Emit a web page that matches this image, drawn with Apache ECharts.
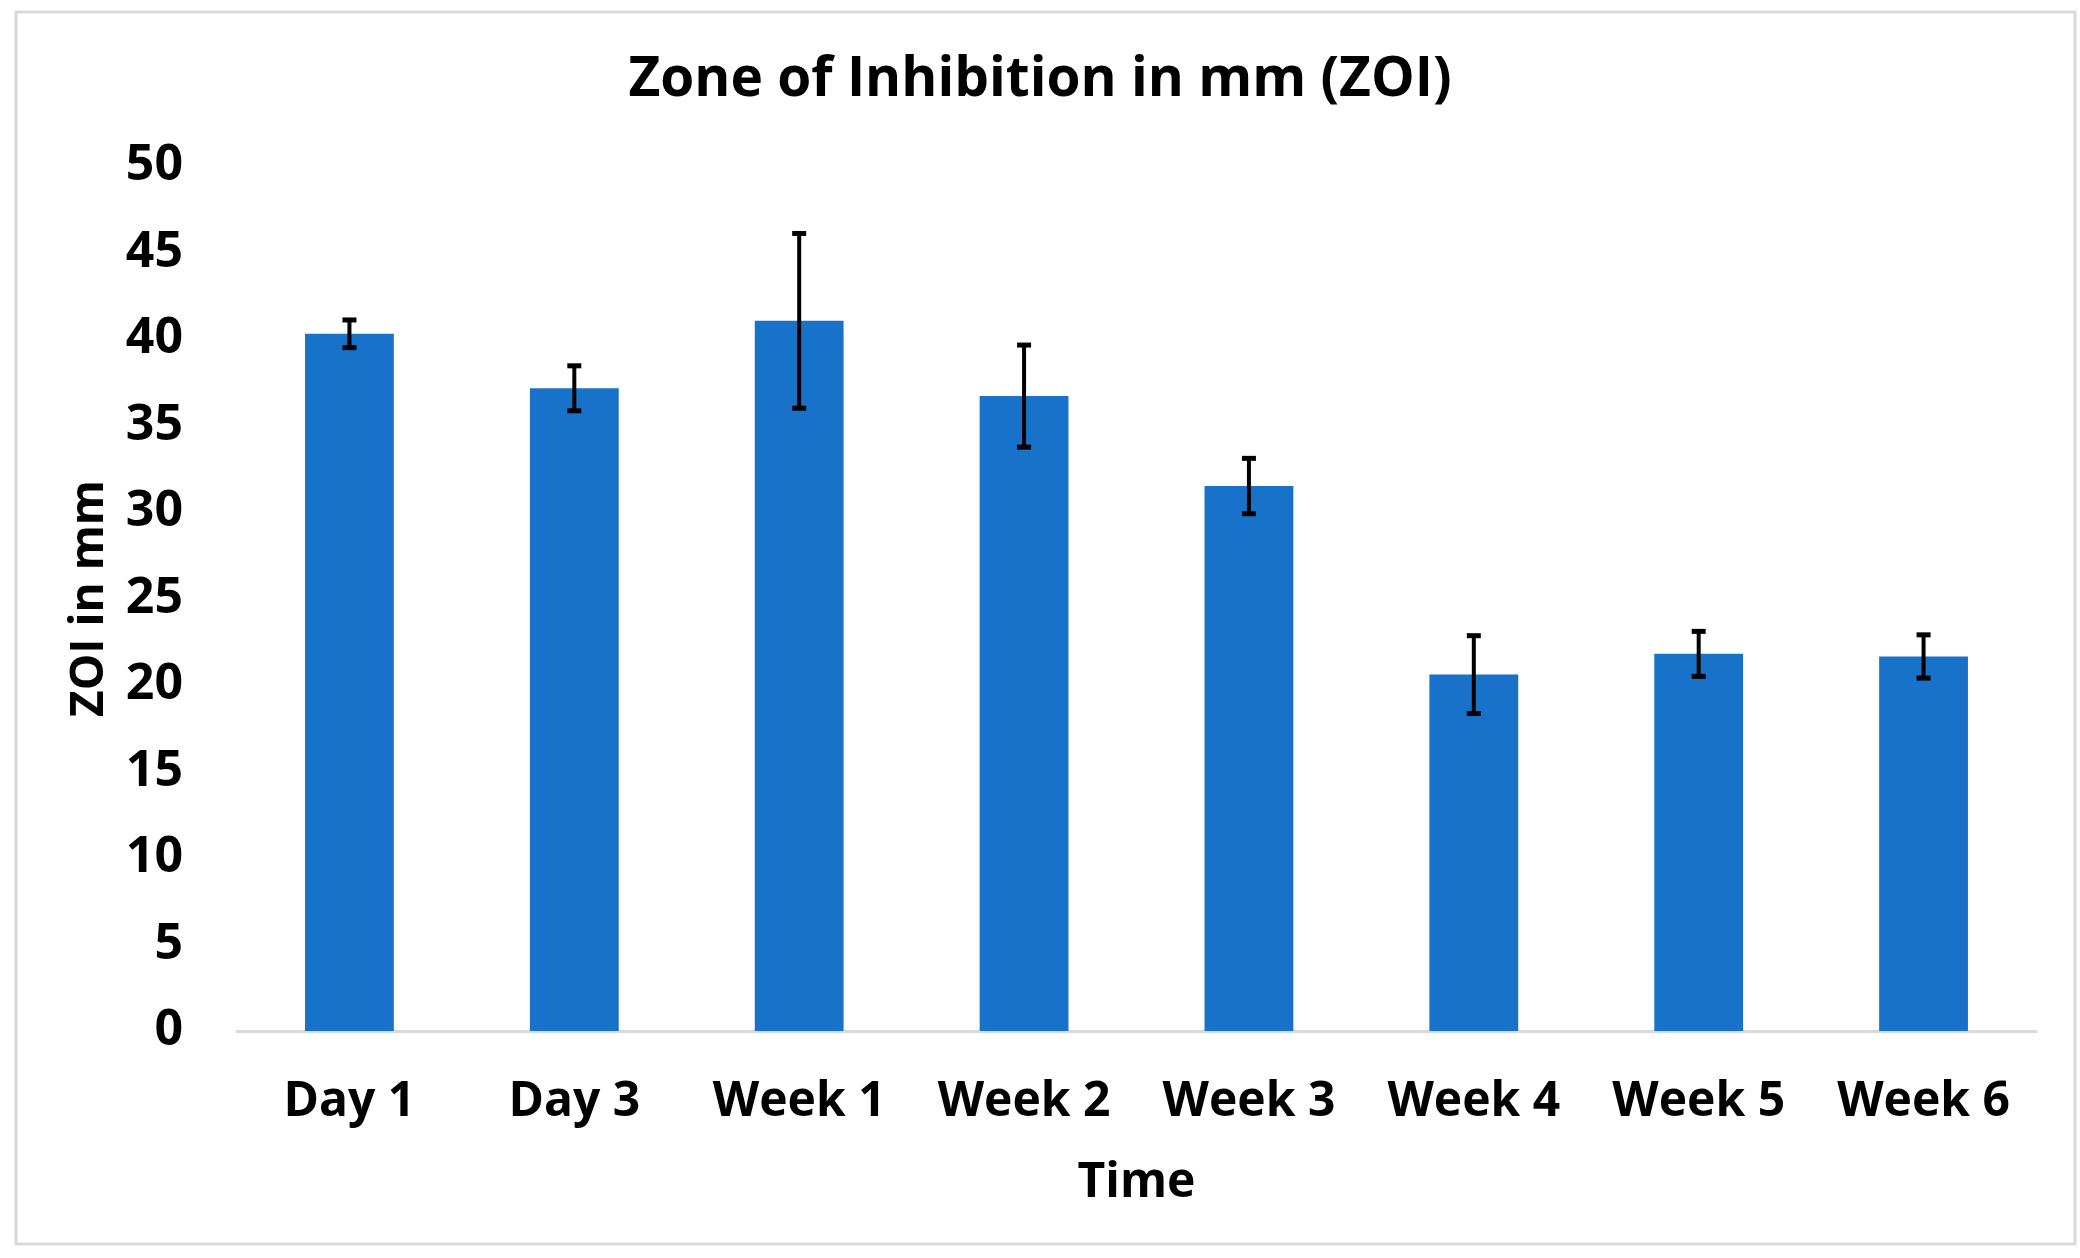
<!DOCTYPE html>
<html>
<head>
<meta charset="utf-8">
<script src="https://cdn.jsdelivr.net/npm/echarts@6/dist/echarts.min.js"></script>
<style>
html,body{margin:0;padding:0;background:#fff;}
#main{width:2080px;height:1258px;}
</style>
</head>
<body>
<div id="main"></div>
<script>
var categories = ['Day 1', 'Day 3', 'Week 1', 'Week 2', 'Week 3', 'Week 4', 'Week 5', 'Week 6'];
var zoiMean = [40.3, 37.15, 41.05, 36.7, 31.5, 20.6, 21.8, 21.65];
var zoiError = [0.8, 1.3, 5.05, 2.95, 1.6, 2.25, 1.3, 1.25];
var yTicks = [0, 5, 10, 15, 20, 25, 30, 35, 40, 45, 50];

var FONT = '"Open Sans", "Noto Sans", sans-serif';
var errorData = categories.map(function (c, i) {
  return [i, zoiMean[i] - zoiError[i], zoiMean[i] + zoiError[i]];
});

var chart = echarts.init(document.getElementById('main'), null, {renderer: 'canvas'});
chart.setOption({
  backgroundColor: '#ffffff',
  animation: false,
  title: {
    text: 'Zone of Inhibition in mm (ZOI)',
    left: 'center',
    top: 48,
    textStyle: {fontFamily: FONT, fontWeight: 'bold', fontSize: 55, color: '#000'}
  },
  graphic: [{
    type: 'rect',
    shape: {x: 16, y: 12, width: 2059, height: 1232},
    style: {fill: 'none', stroke: '#d9d9d9', lineWidth: 3},
    silent: true
  }],
  grid: {left: 237, right: 44, top: 166, bottom: 227},
  xAxis: {
    type: 'category',
    data: categories,
    axisLine: {show: true, lineStyle: {color: '#d9d9d9', width: 3}},
    axisTick: {show: false},
    axisLabel: {fontFamily: FONT, fontWeight: 'bold', fontSize: 48, color: '#000', margin: 47},
    name: 'Time',
    nameLocation: 'middle',
    nameGap: 128,
    nameTextStyle: {fontFamily: FONT, fontWeight: 'bold', fontSize: 48, color: '#000'}
  },
  yAxis: {
    type: 'value',
    min: yTicks[0],
    max: yTicks[yTicks.length - 1],
    interval: yTicks[1] - yTicks[0],
    axisLine: {show: false},
    axisTick: {show: false},
    splitLine: {show: false},
    axisLabel: {fontFamily: FONT, fontWeight: 'bold', fontSize: 50, color: '#000', margin: 54},
    name: 'ZOI in mm',
    nameLocation: 'middle',
    nameGap: 124,
    nameTextStyle: {fontFamily: FONT, fontWeight: 'bold', fontSize: 46, color: '#000'}
  },
  series: [{
    type: 'bar',
    data: zoiMean,
    barWidth: '39.5%',
    itemStyle: {color: '#1872C9'}
  }, {
    type: 'custom',
    data: errorData,
    z: 10,
    renderItem: function (params, api) {
      var x = api.value(0);
      var lo = api.coord([x, api.value(1)]);
      var hi = api.coord([x, api.value(2)]);
      var cap = 7;
      var st = {stroke: '#000', lineWidth: 4};
      return {
        type: 'group',
        children: [
          {type: 'line', shape: {x1: hi[0], y1: hi[1], x2: lo[0], y2: lo[1]}, style: st},
          {type: 'line', shape: {x1: hi[0] - cap, y1: hi[1], x2: hi[0] + cap, y2: hi[1]}, style: {stroke: '#000', lineWidth: 5}},
          {type: 'line', shape: {x1: lo[0] - cap, y1: lo[1], x2: lo[0] + cap, y2: lo[1]}, style: {stroke: '#000', lineWidth: 5}}
        ]
      };
    }
  }]
});
</script>
</body>
</html>
